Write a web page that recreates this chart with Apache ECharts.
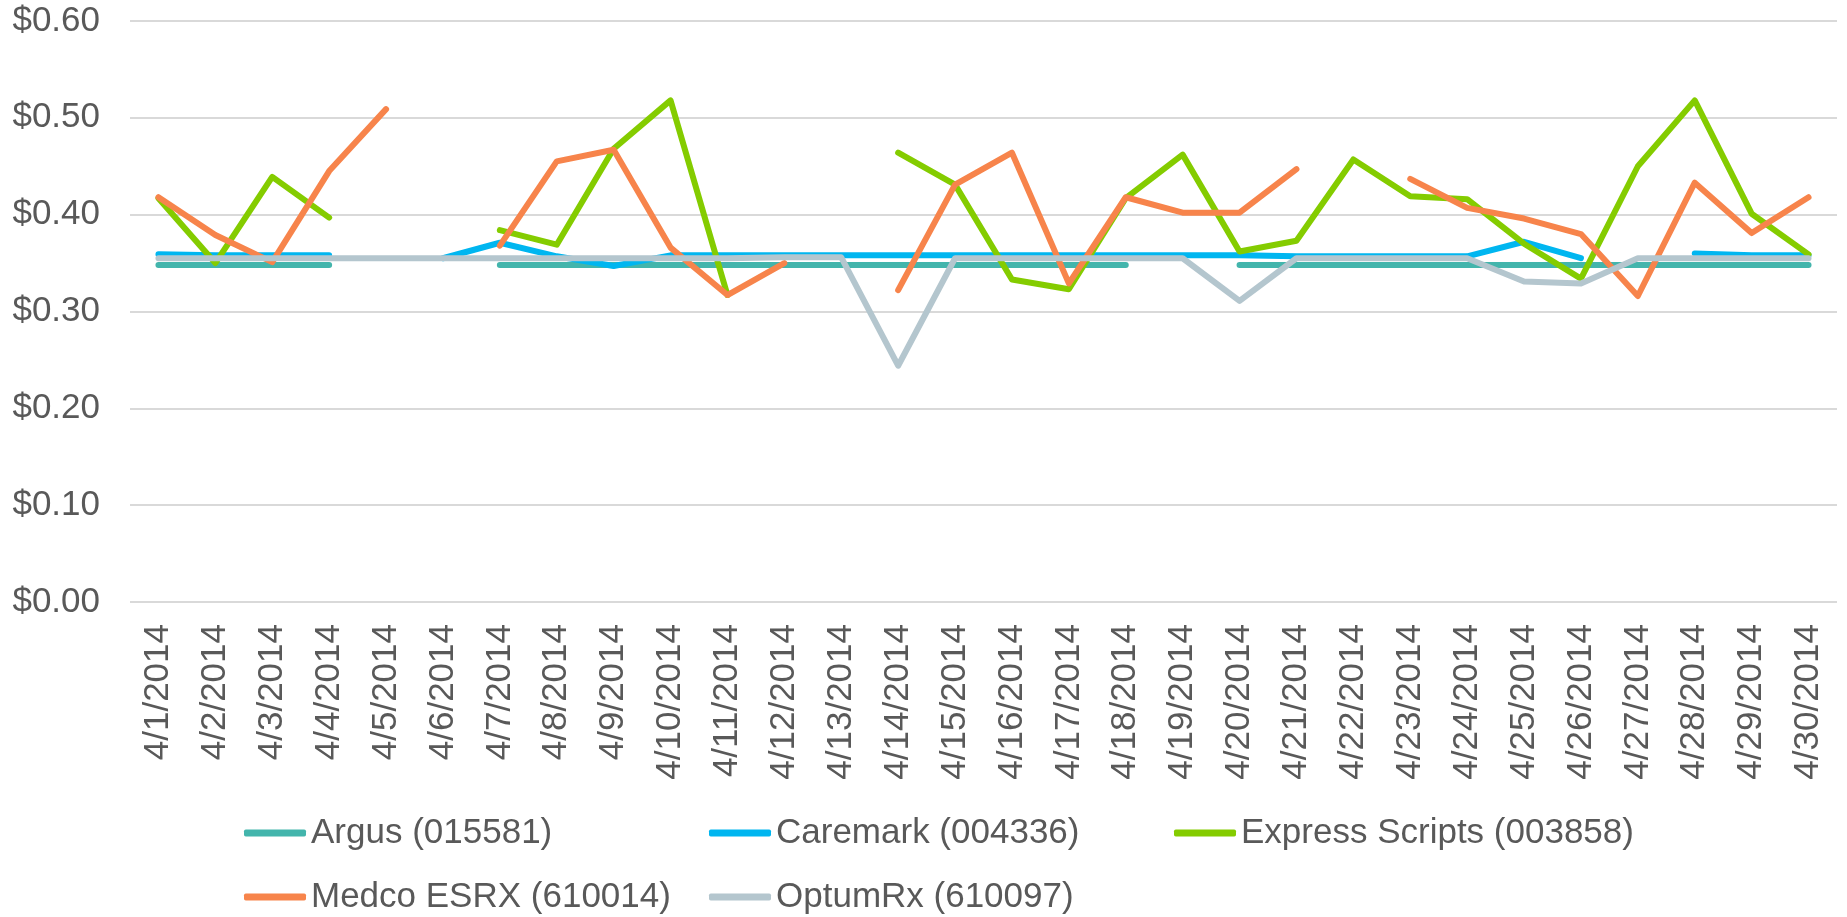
<!DOCTYPE html>
<html>
<head>
<meta charset="utf-8">
<script src="https://cdn.jsdelivr.net/npm/echarts@6/dist/echarts.min.js"></script>
<style>
  html, body { margin: 0; padding: 0; background: #ffffff; }
  #chart { width: 1847px; height: 917px; }
</style>
</head>
<body>
<div id="chart"></div>
<script>
var categories = ['4/1/2014','4/2/2014','4/3/2014','4/4/2014','4/5/2014','4/6/2014','4/7/2014','4/8/2014','4/9/2014','4/10/2014',
  '4/11/2014','4/12/2014','4/13/2014','4/14/2014','4/15/2014','4/16/2014','4/17/2014','4/18/2014','4/19/2014','4/20/2014',
  '4/21/2014','4/22/2014','4/23/2014','4/24/2014','4/25/2014','4/26/2014','4/27/2014','4/28/2014','4/29/2014','4/30/2014'];

var seriesNames = ['Argus (015581)', 'Caremark (004336)', 'Express Scripts (003858)', 'Medco ESRX (610014)', 'OptumRx (610097)'];

var argus = [0.348,0.348,0.348,0.348,null,null,0.348,0.348,0.348,0.348,
  0.348,0.348,0.348,0.348,0.348,0.348,0.348,0.348,null,0.348,
  0.348,0.348,0.348,0.348,0.348,0.348,0.348,0.348,0.348,0.348];

var caremark = [0.359,0.358,0.358,0.358,null,0.355,0.371,0.357,0.347,0.358,
  0.358,0.358,0.358,0.358,0.358,0.358,0.358,0.358,0.358,0.358,
  0.357,0.357,0.357,0.357,0.372,0.355,null,0.360,0.358,0.358];

var expressScripts = [0.417,0.350,0.439,0.397,null,null,0.384,0.369,0.468,0.518,
  0.317,null,null,0.464,0.431,0.333,0.323,0.417,0.462,0.362,
  0.373,0.457,0.419,0.416,0.370,0.334,0.450,0.518,0.401,0.359];

var medco = [0.418,0.379,0.351,0.445,0.509,null,0.368,0.455,0.467,0.366,
  0.317,0.350,null,0.322,0.431,0.464,0.329,0.418,0.402,0.402,
  0.447,null,0.437,0.407,0.396,0.380,0.316,0.433,0.381,0.418];

var optumRx = [0.355,0.355,0.355,0.355,0.355,0.355,0.355,0.355,0.355,0.355,
  0.355,0.356,0.356,0.244,0.355,0.355,0.355,0.355,0.355,0.311,
  0.355,0.355,0.355,0.355,0.331,0.329,0.355,0.355,0.355,0.355];

var colors = ['#43B5AC', '#00B6F0', '#84CC00', '#F7844B', '#B4C6CE'];
var yTicks = { min: 0, max: 0.6, interval: 0.1 };

var dataList = [argus, caremark, expressScripts, medco, optumRx];
var FONT = '"Liberation Sans", Arial, sans-serif';

var chart = echarts.init(document.getElementById('chart'), null, { renderer: 'canvas' });

var series = seriesNames.map(function (name, i) {
  return {
    name: name,
    type: 'line',
    data: dataList[i],
    symbol: 'none',
    showSymbol: false,
    connectNulls: false,
    color: colors[i],
    lineStyle: { width: 6, color: colors[i], cap: 'round', join: 'round' },
    itemStyle: { color: colors[i] },
    emphasis: { disabled: true },
    z: 2 + i
  };
});

chart.setOption({
  animation: false,
  backgroundColor: '#ffffff',
  grid: { left: 130, right: 10, top: 21, bottom: 315, containLabel: false },
  legend: {
    data: seriesNames,
    left: 244,
    top: 801,
    width: 1400,
    padding: 0,
    itemGap: 0,
    itemWidth: 62,
    itemHeight: 7,
    icon: 'roundRect',
    textStyle: {
      fontFamily: FONT,
      fontSize: 35,
      color: '#595959',
      width: 398,
      lineHeight: 64
    },
    selectedMode: false
  },
  xAxis: {
    type: 'category',
    data: categories,
    boundaryGap: true,
    axisLine: { show: false },
    axisTick: { show: false },
    splitLine: { show: false },
    axisLabel: {
      rotate: 90,
      interval: 0,
      margin: 22,
      fontFamily: FONT,
      fontSize: 35,
      color: '#595959'
    }
  },
  yAxis: {
    type: 'value',
    min: yTicks.min,
    max: yTicks.max,
    interval: yTicks.interval,
    axisLine: { show: false },
    axisTick: { show: false },
    splitLine: { show: true, lineStyle: { color: '#D9D9D9', width: 2 } },
    axisLabel: {
      margin: 30,
      fontFamily: FONT,
      fontSize: 35,
      color: '#595959',
      formatter: function (v) { return '$' + v.toFixed(2); }
    }
  },
  series: series
});
</script>
</body>
</html>
